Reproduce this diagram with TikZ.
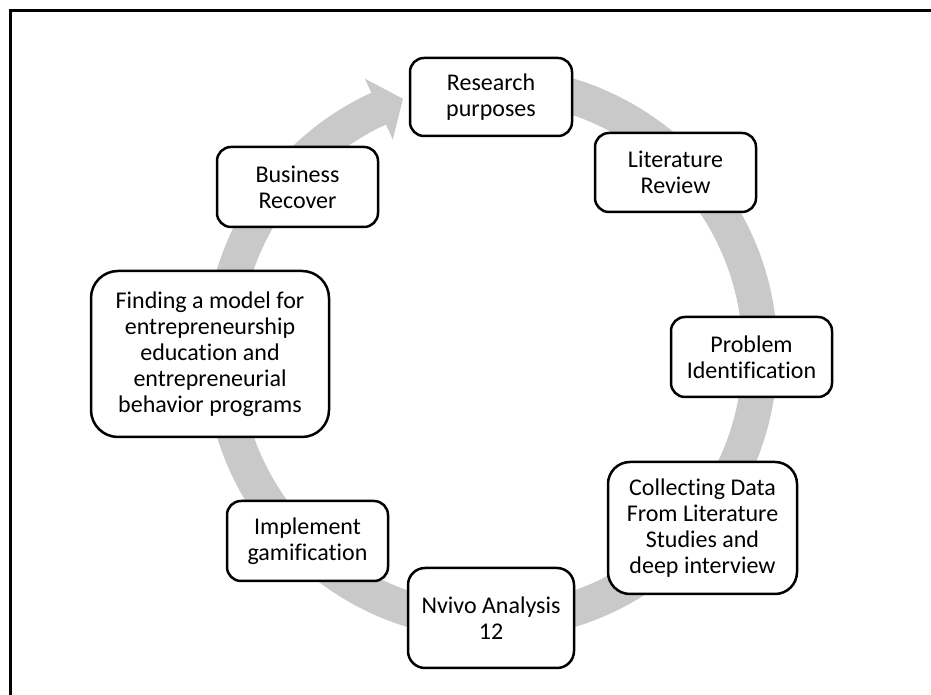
\documentclass[tikz,border=0pt]{standalone}
\usepackage{fontspec}
\setmainfont{Carlito}[Ligatures=NoCommon]
\definecolor{bandgray}{RGB}{201,201,201}
\begin{document}
\begin{tikzpicture}[x=1pt,y=1pt,
  stage/.style={draw=black, line width=2.5pt, fill=white, rounded corners=#1,
    align=center, inner sep=0pt, font=\fontsize{24}{26}\selectfont},
  stage/.default=14pt,
  band/.style={draw=bandgray, line width=35pt, line cap=butt},
  frameline/.style={draw=black, line width=3pt, line join=miter}]
\useasboundingbox (0,0) rectangle (931,695);

% open frame: left and top edges only
\draw[frameline] (10,-5) -- (10,684) -- (936,684);

% hub of the cycle
\coordinate (hub) at (491,342);

% grey cycle band, clockwise from the top, ending in an arrow head
\draw[band] ([shift={(hub)}]90:269) arc[start angle=90, end angle=-245.5, radius=269];
\fill[bandgray] ([shift={(hub)}]114.7:302) -- ([shift={(hub)}]109.1:269)
  -- ([shift={(hub)}]114.7:235) -- cycle;

% stages
\node[stage, minimum width=162pt, minimum height=78pt] (rp) at (491,598) {Research\\purposes};
\node[stage, minimum width=161pt, minimum height=79pt] (lr) at (675.5,522.5) {Literature\\Review};
\node[stage, minimum width=161pt, minimum height=80pt] (pi) at (751.5,338) {Problem\\Identification};
\node[stage=22pt, minimum width=189pt, minimum height=132pt] (cd) at (702.5,167) {Collecting Data\\From Literature\\Studies and\\deep interview};
\node[stage=17pt, minimum width=166pt, minimum height=100pt] (nv) at (491,77) {Nvivo Analysis\\12};
\node[stage, minimum width=161pt, minimum height=80pt] (ig) at (307.5,154) {Implement\\gamification};
\node[stage=27pt, minimum width=238pt, minimum height=166pt] (fm) at (210,341) {Finding a model for\\entrepreneurship\\education and\\entrepreneurial\\behavior programs};
\node[stage, minimum width=161pt, minimum height=80pt] (br) at (297.5,508) {Business\\Recover};
\end{tikzpicture}
\end{document}
